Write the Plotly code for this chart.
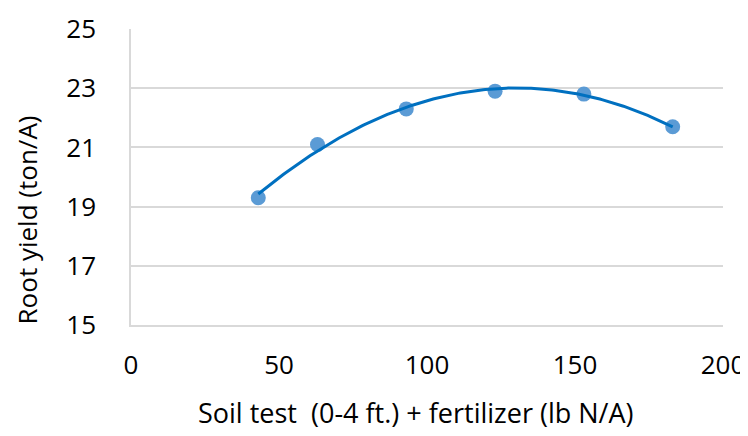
import numpy as np
import plotly.graph_objects as go

# Data
n_supply = [43, 63, 93, 123, 153, 183]          # Soil test (0-4 ft.) + fertilizer, lb N/A
root_yield = [19.3, 21.1, 22.3, 22.9, 22.8, 21.7]  # ton/A

x_ticks = [0, 50, 100, 150, 200]
y_ticks = [15, 17, 19, 21, 23, 25]

x_title = "Soil test  (0-4 ft.) + fertilizer (lb N/A)"
y_title = "Root yield (ton/A)"

# Quadratic (polynomial order 2) trendline fitted to the data, as in the original
coef = np.polyfit(n_supply, root_yield, 2)
trend_x = np.linspace(min(n_supply), max(n_supply), 200)
trend_y = np.polyval(coef, trend_x)

FONT = "Open Sans"
FS = 26
TFS = 27

fig = go.Figure()
fig.add_trace(go.Scatter(
    x=n_supply, y=root_yield, mode="markers",
    marker=dict(size=15, color="#5B9BD5", line=dict(width=0)),
    showlegend=False, hoverinfo="x+y",
))
fig.add_trace(go.Scatter(
    x=trend_x, y=trend_y, mode="lines",
    line=dict(color="#0070C0", width=3),
    showlegend=False, hoverinfo="skip",
))

# The page body has an 8px default margin, so the figure is sized 8px smaller
fig.update_layout(
    width=740, height=428,
    margin=dict(l=123, r=25, t=21, b=111),
    paper_bgcolor="white", plot_bgcolor="white",
    font=dict(family=FONT, size=FS, color="#000000"),
    xaxis=dict(
        range=[0, 200], tickvals=x_ticks, ticktext=[str(v) for v in x_ticks],
        showgrid=False, zeroline=False,
        showline=True, linecolor="#D9D9D9", linewidth=1.5,
        ticks="outside", ticklen=16, tickcolor="rgba(0,0,0,0)",
        tickfont=dict(family=FONT, size=FS, color="#000000"),
        automargin=False,
    ),
    yaxis=dict(
        range=[15, 25], tickvals=y_ticks, ticktext=[str(v) for v in y_ticks],
        showgrid=True, gridcolor="#D9D9D9", gridwidth=1.5,
        zeroline=False, showline=True, linecolor="#D9D9D9", linewidth=1.5,
        ticks="outside", ticklen=28, tickcolor="rgba(0,0,0,0)",
        tickfont=dict(family=FONT, size=FS, color="#000000"),
        automargin=False,
    ),
    annotations=[
        dict(text=x_title, xref="paper", yref="paper", x=0.481, y=-0.294,
             xanchor="center", yanchor="middle", showarrow=False,
             font=dict(family=FONT, size=TFS, color="#000000")),
        dict(text=y_title, xref="paper", yref="paper", x=-0.1765, y=0.355,
             xanchor="center", yanchor="middle", showarrow=False, textangle=-90,
             font=dict(family=FONT, size=26, color="#000000")),
    ],
)

fig.write_html("out.html")
